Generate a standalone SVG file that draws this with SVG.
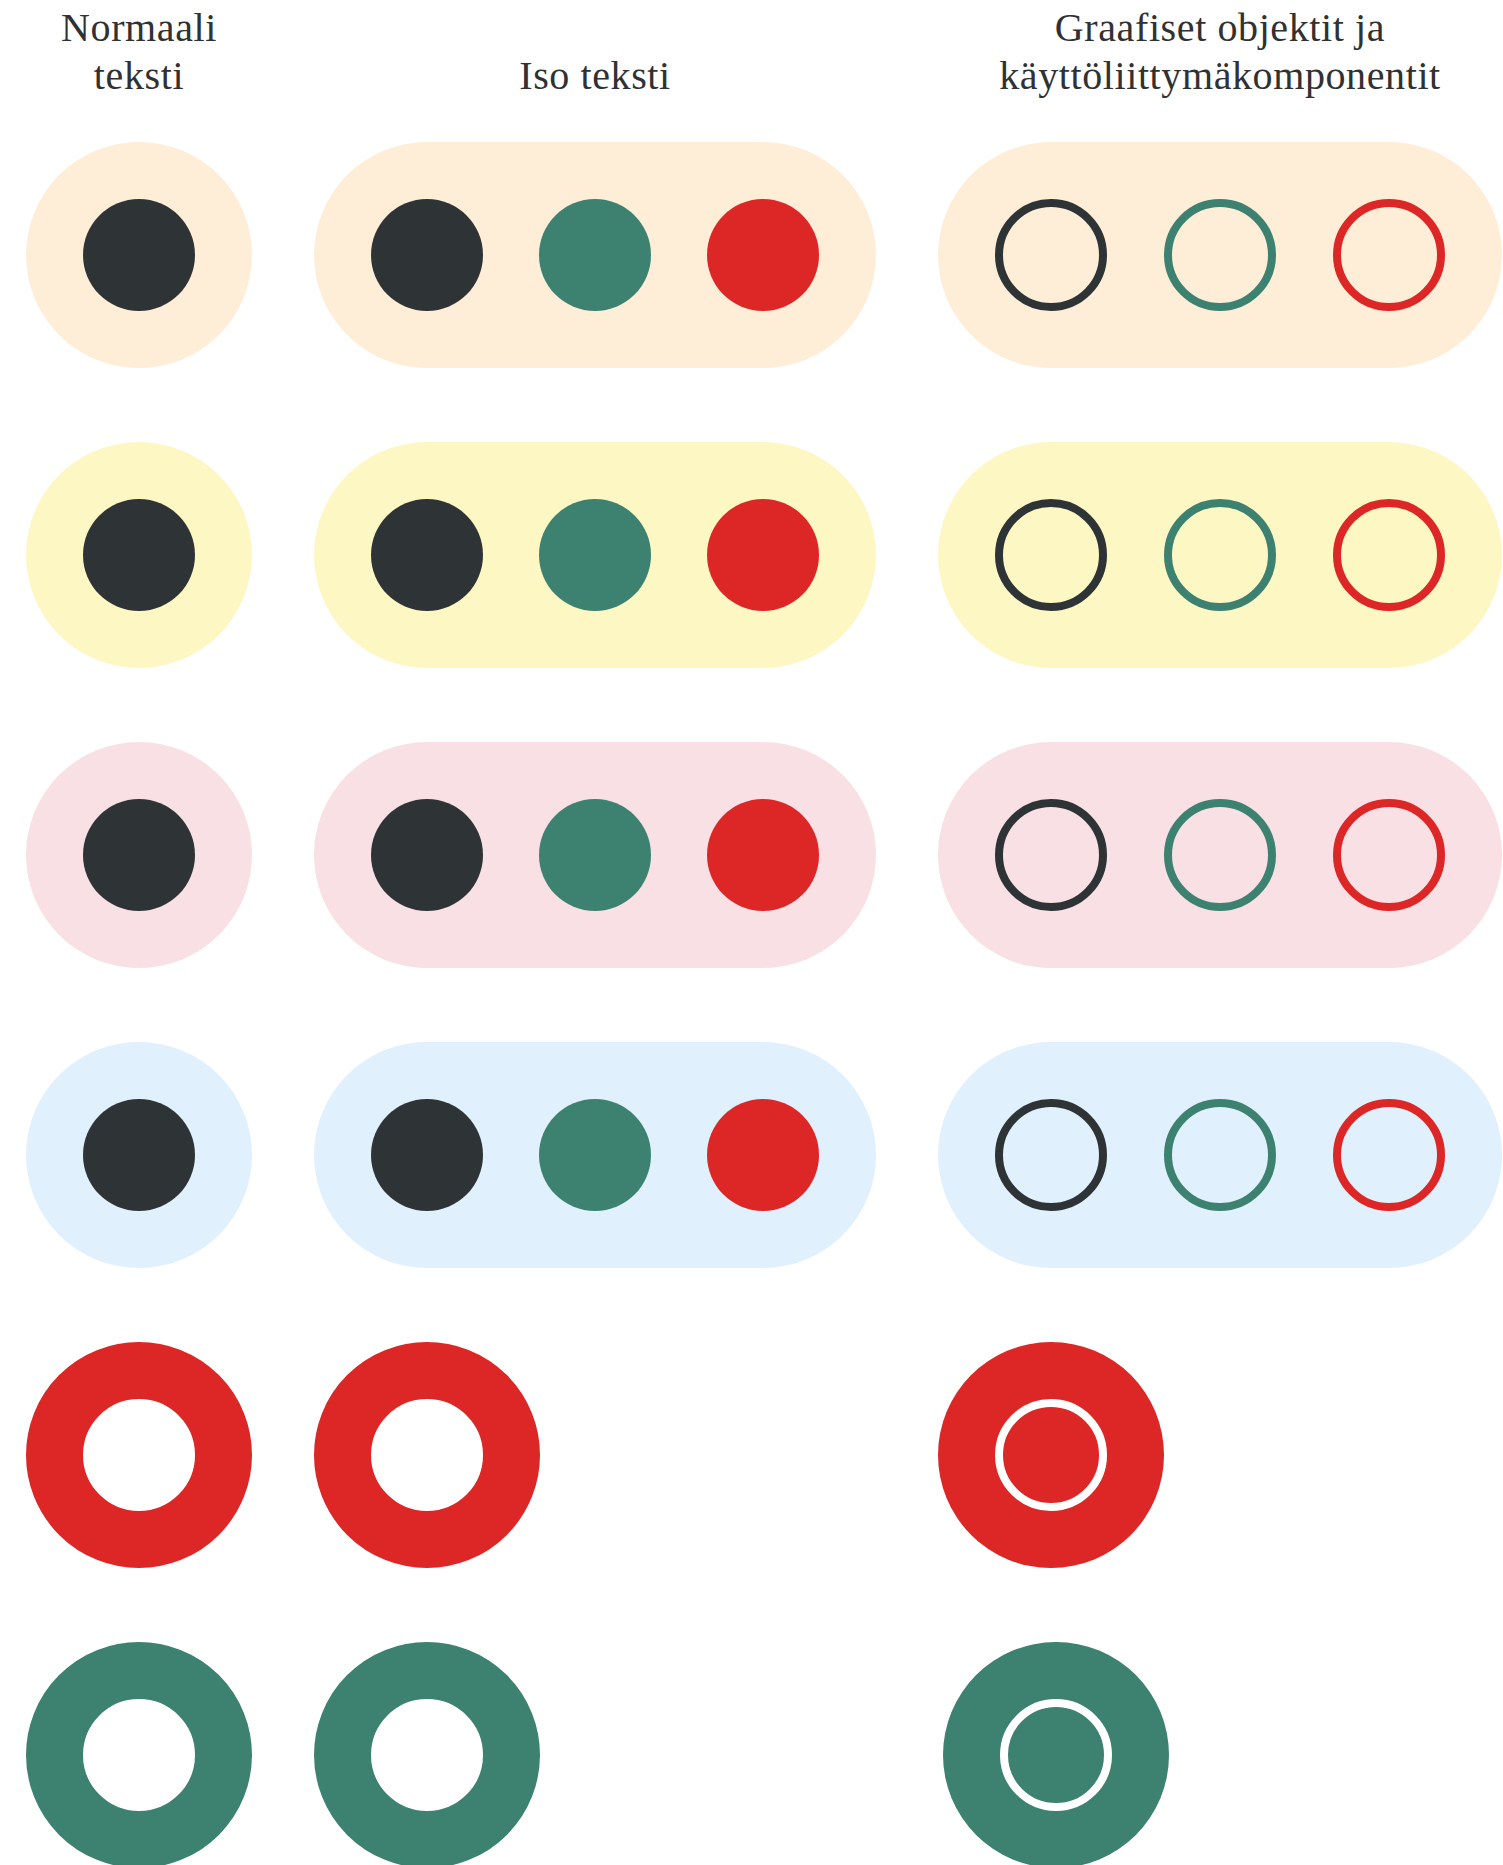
<svg xmlns="http://www.w3.org/2000/svg" width="1503" height="1865" viewBox="0 0 1503 1865">
  <style>
    .hdr { font-family: "Liberation Serif", "DejaVu Serif", serif; font-size: 40px; fill: #2f3133; text-anchor: middle; letter-spacing: 0.6px; }
    .peach { fill: #FEEDD7; }
    .yellow { fill: #FDF7C4; }
    .pink { fill: #F8E0E4; }
    .blue { fill: #E0F0FC; }
    .dot-dark { fill: #2E3336; }
    .dot-green { fill: #3D8170; }
    .dot-red { fill: #DC2726; }
    .ring { fill: none; stroke-width: 8; }
    .r-dark { stroke: #2E3336; }
    .r-green { stroke: #3D8170; }
    .r-red { stroke: #DC2726; }
    .thick { fill: none; stroke-width: 57; }
    .white-ring { fill: none; stroke: #ffffff; stroke-width: 8; }
  </style>
  <rect width="1503" height="1865" fill="#ffffff"/>

  <g id="headers">
    <text class="hdr" x="139" y="41">Normaali</text>
    <text class="hdr" x="139" y="89">teksti</text>
    <text class="hdr" x="595" y="89">Iso teksti</text>
    <text class="hdr" x="1220" y="41">Graafiset objektit ja</text>
    <text class="hdr" x="1220" y="89">käyttöliittymäkomponentit</text>
  </g>

  <!-- Row 1: peach -->
  <g id="row1-normal">
    <circle class="peach" cx="139" cy="255" r="113"/>
    <circle class="dot-dark" cx="139" cy="255" r="56"/>
  </g>
  <g id="row1-large">
    <rect class="peach" x="314" y="142" width="562" height="226" rx="113"/>
    <circle class="dot-dark" cx="427" cy="255" r="56"/>
    <circle class="dot-green" cx="595" cy="255" r="56"/>
    <circle class="dot-red" cx="763" cy="255" r="56"/>
  </g>
  <g id="row1-graphic">
    <rect class="peach" x="938" y="142" width="564" height="226" rx="113"/>
    <circle class="ring r-dark" cx="1051" cy="255" r="52"/>
    <circle class="ring r-green" cx="1220" cy="255" r="52"/>
    <circle class="ring r-red" cx="1389" cy="255" r="52"/>
  </g>

  <!-- Row 2: yellow -->
  <g id="row2-normal">
    <circle class="yellow" cx="139" cy="555" r="113"/>
    <circle class="dot-dark" cx="139" cy="555" r="56"/>
  </g>
  <g id="row2-large">
    <rect class="yellow" x="314" y="442" width="562" height="226" rx="113"/>
    <circle class="dot-dark" cx="427" cy="555" r="56"/>
    <circle class="dot-green" cx="595" cy="555" r="56"/>
    <circle class="dot-red" cx="763" cy="555" r="56"/>
  </g>
  <g id="row2-graphic">
    <rect class="yellow" x="938" y="442" width="564" height="226" rx="113"/>
    <circle class="ring r-dark" cx="1051" cy="555" r="52"/>
    <circle class="ring r-green" cx="1220" cy="555" r="52"/>
    <circle class="ring r-red" cx="1389" cy="555" r="52"/>
  </g>

  <!-- Row 3: pink -->
  <g id="row3-normal">
    <circle class="pink" cx="139" cy="855" r="113"/>
    <circle class="dot-dark" cx="139" cy="855" r="56"/>
  </g>
  <g id="row3-large">
    <rect class="pink" x="314" y="742" width="562" height="226" rx="113"/>
    <circle class="dot-dark" cx="427" cy="855" r="56"/>
    <circle class="dot-green" cx="595" cy="855" r="56"/>
    <circle class="dot-red" cx="763" cy="855" r="56"/>
  </g>
  <g id="row3-graphic">
    <rect class="pink" x="938" y="742" width="564" height="226" rx="113"/>
    <circle class="ring r-dark" cx="1051" cy="855" r="52"/>
    <circle class="ring r-green" cx="1220" cy="855" r="52"/>
    <circle class="ring r-red" cx="1389" cy="855" r="52"/>
  </g>

  <!-- Row 4: blue -->
  <g id="row4-normal">
    <circle class="blue" cx="139" cy="1155" r="113"/>
    <circle class="dot-dark" cx="139" cy="1155" r="56"/>
  </g>
  <g id="row4-large">
    <rect class="blue" x="314" y="1042" width="562" height="226" rx="113"/>
    <circle class="dot-dark" cx="427" cy="1155" r="56"/>
    <circle class="dot-green" cx="595" cy="1155" r="56"/>
    <circle class="dot-red" cx="763" cy="1155" r="56"/>
  </g>
  <g id="row4-graphic">
    <rect class="blue" x="938" y="1042" width="564" height="226" rx="113"/>
    <circle class="ring r-dark" cx="1051" cy="1155" r="52"/>
    <circle class="ring r-green" cx="1220" cy="1155" r="52"/>
    <circle class="ring r-red" cx="1389" cy="1155" r="52"/>
  </g>

  <!-- Row 5: red -->
  <g id="row5-normal">
    <circle class="thick r-red" cx="139" cy="1455" r="84.5"/>
  </g>
  <g id="row5-large">
    <circle class="thick r-red" cx="427" cy="1455" r="84.5"/>
  </g>
  <g id="row5-graphic">
    <circle class="dot-red" cx="1051" cy="1455" r="113"/>
    <circle class="white-ring" cx="1051" cy="1455" r="52"/>
  </g>

  <!-- Row 6: green -->
  <g id="row6-normal">
    <circle class="thick r-green" cx="139" cy="1755" r="84.5"/>
  </g>
  <g id="row6-large">
    <circle class="thick r-green" cx="427" cy="1755" r="84.5"/>
  </g>
  <g id="row6-graphic">
    <circle class="dot-green" cx="1056" cy="1755" r="113"/>
    <circle class="white-ring" cx="1056" cy="1755" r="52"/>
  </g>

  <g id="connectors"/>
</svg>
